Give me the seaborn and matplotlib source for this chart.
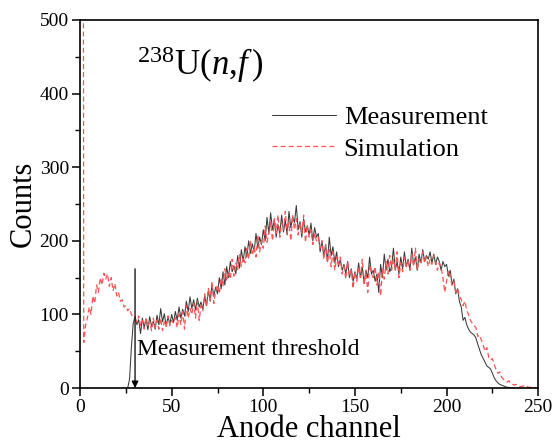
import numpy as np
import pandas as pd
import matplotlib
matplotlib.use("Agg")
import matplotlib.pyplot as plt
from matplotlib.ticker import MultipleLocator
import seaborn as sns

# Measured anode spectrum, channels 26..240
meas_start = 26
meas_counts = [
    0, 12, 55, 88,
    97, 86, 93, 74, 95, 82, 94, 79, 97, 84,
    91, 80, 99, 86, 108, 90, 101, 84, 97, 87,
    100, 89, 104, 92, 110, 95, 107, 98, 118, 104,
    124, 108, 120, 106, 122, 110, 117, 107, 125, 112,
    133, 118, 140, 125, 137, 128, 150, 135, 158, 140,
    165, 150, 172, 158, 166, 155, 180, 163, 188, 172,
    192, 178, 200, 183, 196, 185, 210, 190, 205, 195,
    215, 200, 232, 210, 238, 215, 228, 205, 222, 210,
    235, 212, 228, 208, 240, 218, 232, 225, 248, 215,
    226, 205, 230, 212, 220, 208, 224, 200, 218, 205,
    210, 185, 200, 178, 195, 172, 205, 180, 192, 170,
    185, 165, 175, 160, 168, 155, 172, 150, 162, 145,
    158, 148, 170, 150, 165, 142, 160, 150, 178, 155,
    160, 145, 155, 130, 168, 150, 182, 160, 175, 158,
    165, 190, 160, 172, 155, 178, 162, 185, 165, 175,
    160, 190, 168, 178, 160, 182, 170, 188, 172, 180,
    175, 185, 170, 182, 168, 178, 172, 160, 172, 165,
    168, 152, 160, 140, 148, 128, 135, 118, 110, 92,
    96, 86, 80, 76, 74, 72, 68, 60, 52, 45,
    40, 35, 30, 28, 26, 20, 14, 10, 7, 5,
    4, 3, 2, 1, 1, 0, 0, 0, 0, 0,
    0,
]

# Simulated spectrum, channels 1..250 (first channel holds the noise spike)
sim_start = 1
sim_counts = [
    3000, 62, 85, 95, 110, 100, 125, 115, 140, 130,
    150, 140, 156, 148, 155, 138, 150, 132, 142, 125,
    130, 118, 120, 110, 112, 105, 108, 100, 96, 95,
    90, 98, 85, 92, 80, 96, 84, 90, 78, 95,
    82, 92, 80, 95, 78, 90, 84, 98, 85, 92,
    88, 96, 82, 100, 86, 104, 80, 112, 95, 108,
    100, 115, 95, 118, 92, 112, 105, 128, 110, 135,
    120, 145, 115, 132, 140, 128, 150, 138, 162, 145,
    158, 148, 175, 152, 170, 160, 182, 165, 178, 170,
    190, 175, 200, 180, 192, 178, 208, 185, 200, 190,
    220, 198, 210, 225, 200, 230, 210, 235, 205, 225,
    215, 240, 210, 225, 200, 235, 215, 230, 208, 225,
    210, 235, 198, 222, 205, 215, 195, 210, 200, 205,
    190, 200, 175, 195, 170, 188, 165, 185, 160, 178,
    168, 178, 155, 165, 148, 172, 152, 160, 135, 158,
    145, 165, 150, 175, 140, 160, 130, 168, 155, 150,
    165, 140, 158, 125, 162, 148, 172, 155, 180, 160,
    175, 160, 185, 150, 170, 158, 178, 165, 172, 160,
    182, 165, 190, 160, 175, 168, 185, 170, 178, 165,
    175, 168, 180, 172, 160, 170, 165, 150, 130, 145,
    160, 150, 140, 145, 130, 135, 125, 120, 112, 118,
    105, 100, 92, 88, 85, 82, 70, 72, 65, 58,
    50, 55, 42, 38, 40, 32, 25, 20, 22, 15,
    12, 10, 8, 10, 6, 5, 4, 5, 3, 2,
    2, 3, 1, 2, 1, 1, 0, 1, 0, 0,
]

threshold_channel = 30

meas = pd.DataFrame({"channel": np.arange(meas_start, meas_start + len(meas_counts)),
                     "counts": meas_counts})
sim = pd.DataFrame({"channel": np.arange(sim_start, sim_start + len(sim_counts)),
                    "counts": sim_counts})

sns.set_style("ticks")
plt.rcParams["font.family"] = ["Liberation Serif", "DejaVu Serif"]
plt.rcParams["mathtext.fontset"] = "custom"
plt.rcParams["mathtext.rm"] = "Liberation Serif"
plt.rcParams["mathtext.it"] = "Liberation Serif:italic"
plt.rcParams["text.color"] = "black"
plt.rcParams["axes.labelcolor"] = "black"
plt.rcParams["xtick.color"] = "black"
plt.rcParams["ytick.color"] = "black"

fig = plt.figure(figsize=(5.56, 4.44), dpi=100)
ax = fig.add_axes([0.144, 0.126, 0.824, 0.829])

sns.lineplot(data=meas, x="channel", y="counts", ax=ax, color="#3a3a3a",
             linewidth=0.75, estimator=None, errorbar=None, label="Measurement")
sns.lineplot(data=sim, x="channel", y="counts", ax=ax, color="#ff5252",
             linewidth=0.9, linestyle=(0, (4, 2.5)), estimator=None,
             errorbar=None, label="Simulation")

ax.set_xlim(0, 250)
ax.set_ylim(0, 500)
ax.xaxis.set_major_locator(MultipleLocator(50))
ax.xaxis.set_minor_locator(MultipleLocator(25))
ax.yaxis.set_major_locator(MultipleLocator(100))
ax.yaxis.set_minor_locator(MultipleLocator(50))
ax.tick_params(which="major", direction="out", length=6, width=1.1,
               labelsize=14, color="black", labelcolor="black", pad=2)
ax.tick_params(which="minor", direction="out", length=3.5, width=1.0, color="black")
ax.tick_params(top=False, right=False)

for sp in ax.spines.values():
    sp.set_color("black")
    sp.set_linewidth(1.2)

ax.set_xlabel("Anode channel", fontsize=22, labelpad=-1)
ax.set_ylabel("Counts", fontsize=22, labelpad=1)

ax.text(31, 425, r"$^{238}$U($n$,$f\,$)", fontsize=25)

ax.annotate("", xy=(threshold_channel, 0), xytext=(threshold_channel, 162),
            arrowprops=dict(arrowstyle="-|>", color="black", lw=0.9,
                            mutation_scale=10, shrinkA=0, shrinkB=0))
ax.text(31, 45, "Measurement threshold", fontsize=17)

leg = ax.legend(loc="upper left", bbox_to_anchor=(0.42, 0.767), frameon=False,
                fontsize=19, handlelength=2.4, handletextpad=0.3,
                labelspacing=0.3, borderpad=0, borderaxespad=0)

fig.savefig("out.png", dpi=100)
